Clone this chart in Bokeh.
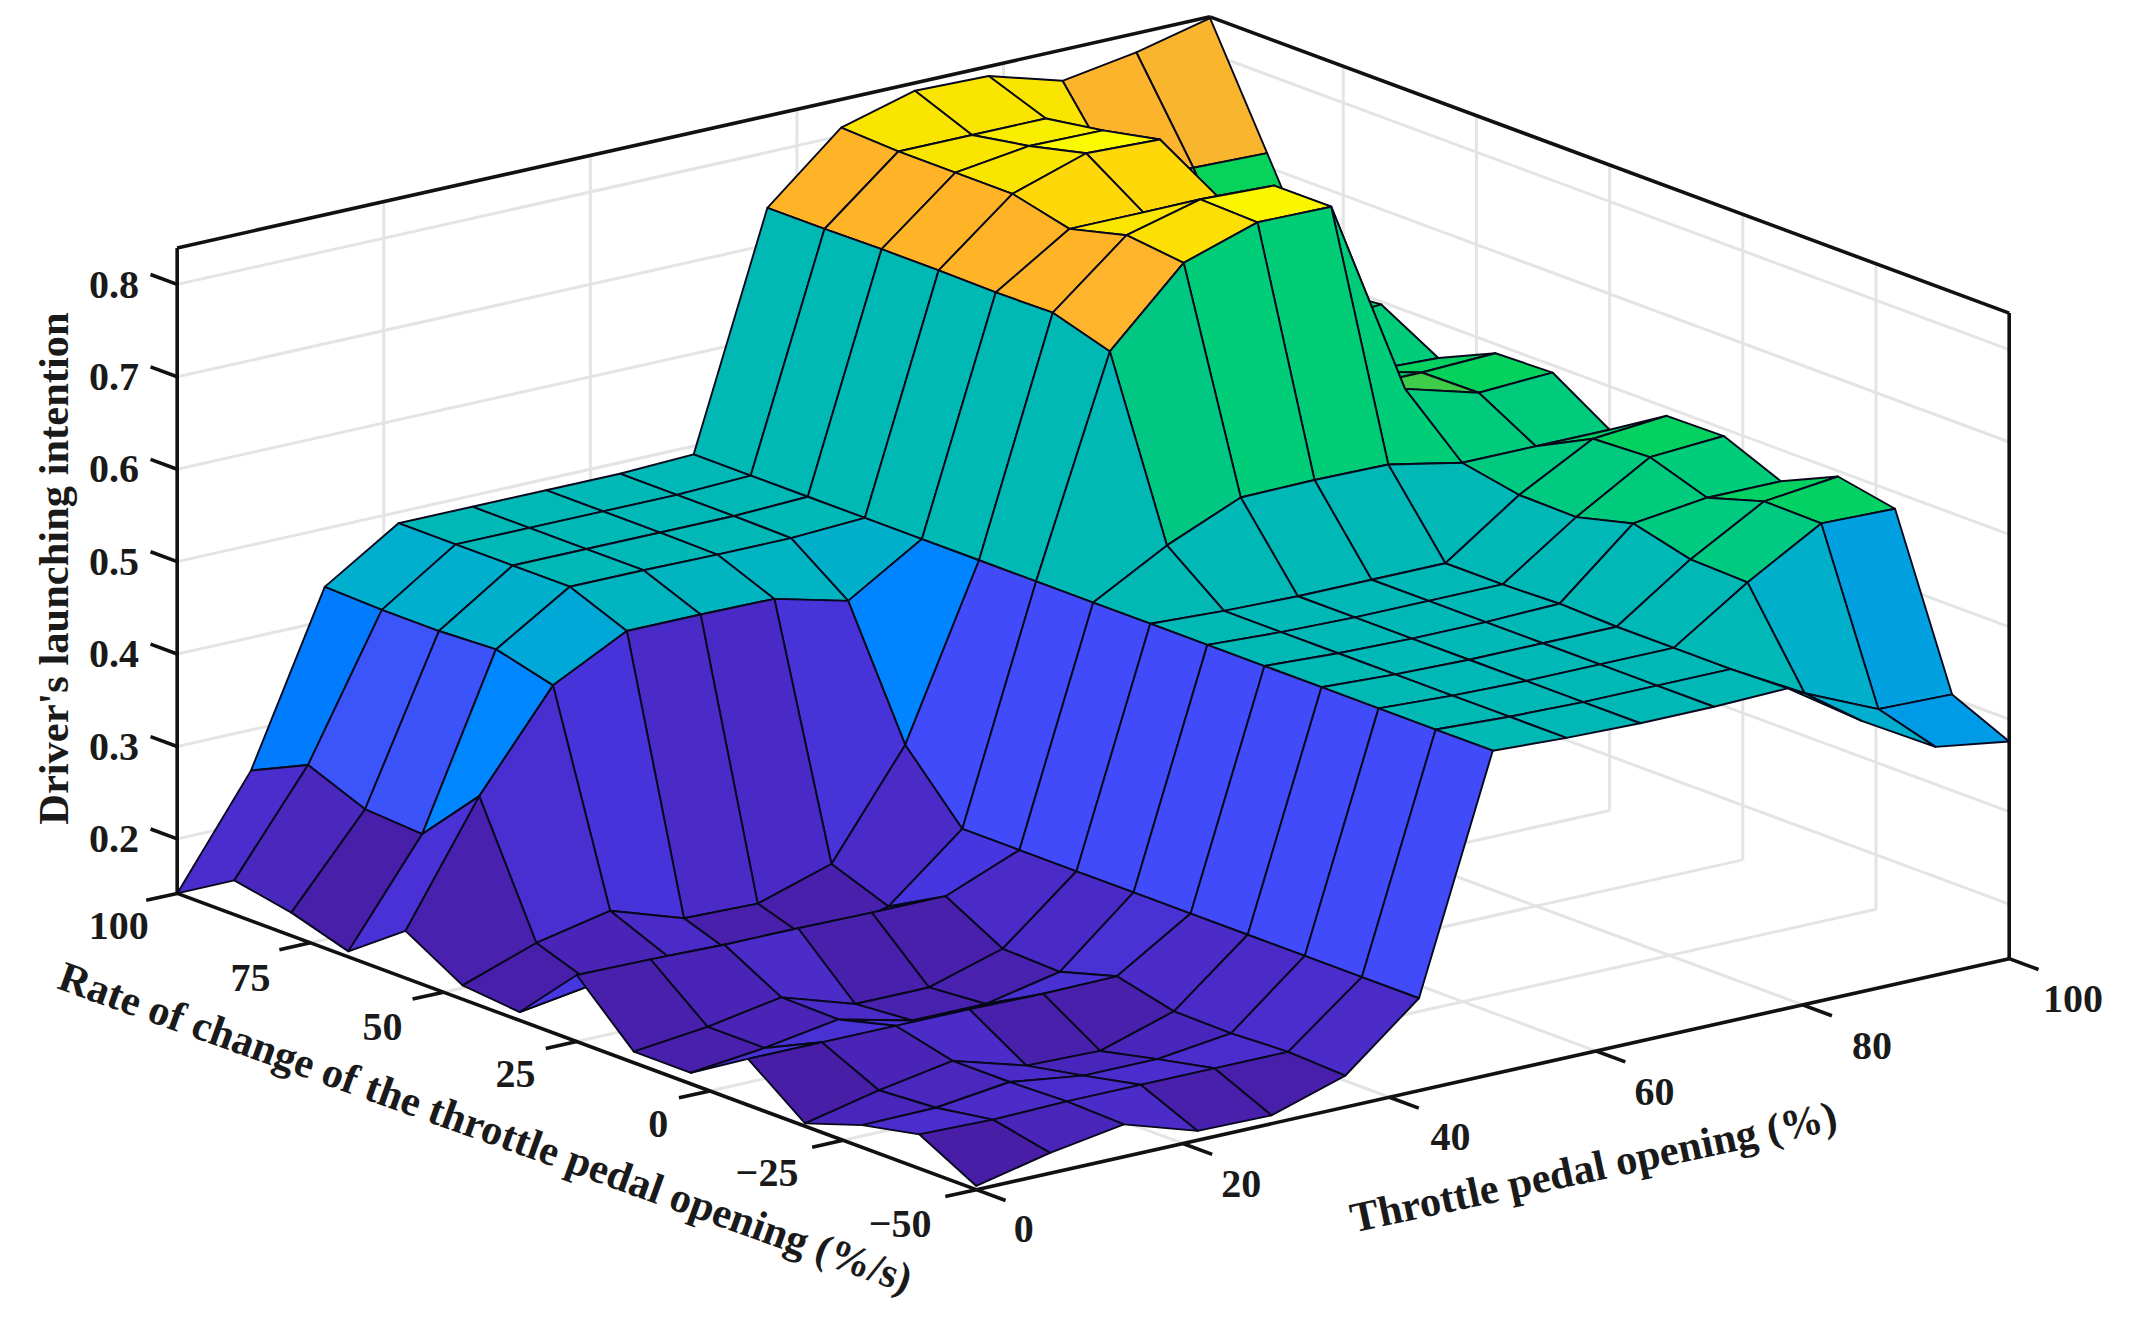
import numpy as np
from bokeh.core.properties import value
from bokeh.embed import file_html
from bokeh.models import ColumnDataSource, LinearColorMapper, Range1d
from bokeh.plotting import figure
from bokeh.resources import INLINE

# ---- data -------------------------------------------------------------
throttle = [round(100 * k / 14, 3) for k in range(15)]
rate = [round(-50 + 150 * k / 14, 3) for k in range(15)]

z_00 = [.145,.178,.165,.144,.191,.153,.153,.213,.150,.156,.192,.147,.166,.178,.141]
z_01 = [.163,.176,.166,.162,.191,.162,.162,.212,.162,.184,.320,.256,.260,.285,.256]
z_02 = [.176,.178,.176,.176,.191,.175,.176,.210,.175,.201,.422,.438,.435,.435,.437]
z_03 = [.151,.178,.165,.153,.191,.156,.151,.210,.153,.175,.463,.488,.488,.488,.488]
z_04 = [.150,.178,.165,.151,.190,.156,.151,.209,.153,.173,.463,.488,.488,.488,.488]
z_05 = [.175,.178,.175,.176,.191,.173,.175,.209,.175,.198,.462,.487,.488,.488,.488]
z_06 = [.241,.241,.241,.241,.241,.241,.241,.241,.241,.309,.442,.487,.488,.488,.488]
z_07 = [.491,.491,.491,.491,.491,.491,.491,.491,.491,.491,.491,.491,.491,.491,.491]
z_08 = [.487,.487,.487,.487,.487,.487,.487,.535,.722,.741,.740,.741,.741,.740,.740]
z_09 = [.485,.485,.485,.485,.485,.485,.485,.569,.800,.807,.791,.806,.806,.806,.809]
z_10 = [.485,.485,.485,.485,.485,.485,.485,.570,.826,.828,.791,.832,.817,.806,.831]
z_11 = [.487,.485,.485,.485,.487,.485,.485,.569,.825,.825,.791,.829,.816,.806,.829]
z_12 = [.434,.441,.538,.540,.556,.540,.541,.553,.610,.587,.590,.590,.626,.720,.806]
z_13 = [.388,.406,.584,.585,.566,.587,.584,.553,.588,.587,.565,.591,.591,.717,.819]
z_14 = [.376,.404,.582,.594,.566,.592,.591,.553,.592,.590,.562,.597,.591,.715,.838]
z_rows = [z_00, z_01, z_02, z_03, z_04, z_05, z_06, z_07, z_08, z_09, z_10, z_11, z_12, z_13, z_14]

z_ticks = [0.2, 0.3, 0.4, 0.5, 0.6, 0.7, 0.8]
z_tick_labels = ["0.2", "0.3", "0.4", "0.5", "0.6", "0.7", "0.8"]
throttle_ticks = [0, 20, 40, 60, 80, 100]
throttle_tick_labels = ["0", "20", "40", "60", "80", "100"]
rate_ticks = [-50, -25, 0, 25, 50, 75, 100]
rate_tick_labels = ["\u221250", "\u221225", "0", "25", "50", "75", "100"]

# ---- camera (fixed orthographic view) ----------------------------------
S = 2131 / 1568
Z0, Z1 = 0.141, 0.8395


def px(x, y, z):
    x, y, z = np.asarray(x, float), np.asarray(y, float), np.asarray(z, float)
    u = 718 + 7.60 * x - 3.92 * (y + 50)
    v = 875 - 1.70 * x - 1.4533 * (y + 50) - 680 * (z - Z0)
    return (S * u).tolist(), (S * v).tolist()


# ---- colour map ---------------------------------------------------------
anchors = [
    (.141, (72, 30, 165)), (.153, (72, 32, 172)), (.178, (75, 45, 205)), (.212, (70, 55, 225)),
    (.241, (65, 75, 250)), (.260, (60, 85, 250)), (.285, (0, 125, 255)), (.320, (0, 135, 255)),
    (.406, (0, 160, 225)), (.435, (0, 175, 205)), (.491, (0, 185, 180)), (.535, (0, 200, 130)),
    (.569, (0, 205, 120)), (.590, (5, 210, 90)), (.626, (110, 200, 60)), (.722, (255, 180, 45)),
    (.741, (255, 180, 40)), (.791, (255, 215, 10)), (.806, (250, 228, 0)), (.832, (250, 250, 0)),
    (.8395, (250, 250, 0)),
]
az = [a[0] for a in anchors]
tt = np.linspace(Z0, Z1, 512)
palette = ["#%02x%02x%02x" % tuple(int(round(np.interp(t, az, [a[1][c] for a in anchors]))) for c in range(3)) for t in tt]
mapper = LinearColorMapper(palette=palette, low=Z0, high=Z1)

# ---- figure -------------------------------------------------------------
p = figure(width=2115, height=1305, x_range=Range1d(0, 2115), y_range=Range1d(1305, 0),
           x_axis_type=None, y_axis_type=None, toolbar_location=None, output_backend="svg",
           min_border=0, outline_line_color=None, background_fill_color="white")
p.grid.visible = False

XMIN, XMAX, YMIN, YMAX = 0, 100, -50, 100

# grids
gx, gy = [], []


def seg(a, b):
    xs, ys = px([a[0], b[0]], [a[1], b[1]], [a[2], b[2]])
    gx.append(xs)
    gy.append(ys)


for t in throttle_ticks[1:-1]:
    seg((t, YMAX, Z0), (t, YMAX, Z1))
    seg((t, YMIN, Z0), (t, YMAX, Z0))
for t in rate_ticks[1:-1]:
    seg((XMAX, t, Z0), (XMAX, t, Z1))
    seg((XMIN, t, Z0), (XMAX, t, Z0))
for t in z_ticks:
    seg((XMIN, YMAX, t), (XMAX, YMAX, t))
    seg((XMAX, YMIN, t), (XMAX, YMAX, t))
p.multi_line(gx, gy, line_color="#e4e4e4", line_width=3)

# box and ticks
bx, by = [], []


def bseg(a, b):
    xs, ys = px([a[0], b[0]], [a[1], b[1]], [a[2], b[2]])
    bx.append(xs)
    by.append(ys)


bseg((XMIN, YMAX, Z0), (XMIN, YMAX, Z1))
bseg((XMAX, YMIN, Z0), (XMAX, YMIN, Z1))
bseg((XMIN, YMAX, Z1), (XMAX, YMAX, Z1))
bseg((XMAX, YMIN, Z1), (XMAX, YMAX, Z1))
bseg((XMIN, YMAX, Z0), (XMIN, YMIN, Z0))
bseg((XMIN, YMIN, Z0), (XMAX, YMIN, Z0))
for t in z_ticks:
    bseg((XMIN, YMAX, t), (XMIN, YMAX + 5.0, t))
for t in rate_ticks:
    bseg((XMIN, t, Z0), (XMIN - 3.0, t, Z0))
for t in throttle_ticks:
    bseg((t, YMIN, Z0), (t, YMIN - 5.5, Z0))
p.multi_line(bx, by, line_color="#111111", line_width=3.6)

# surface: far cells first
xs, ys, cs = [], [], []
for i in range(13, -1, -1):
    for j in range(13, -1, -1):
        qx = [throttle[i], throttle[i + 1], throttle[i + 1], throttle[i]]
        qy = [rate[j], rate[j], rate[j + 1], rate[j + 1]]
        qz = [z_rows[i][j], z_rows[i + 1][j], z_rows[i + 1][j + 1], z_rows[i][j + 1]]
        a, b = px(qx, qy, qz)
        xs.append(a)
        ys.append(b)
        cs.append(z_rows[i][j])
src = ColumnDataSource(dict(xs=xs, ys=ys, c=cs))
p.patches("xs", "ys", source=src, fill_color={"field": "c", "transform": mapper},
          line_color="#08081c", line_width=1.9, line_join="round")

FONT = value("Liberation Serif")


def label(x, y, texts, size, style="bold", angle=0.0, align="center"):
    p.text([S * a for a in x], [S * b for b in y], text=texts, text_font=FONT, text_font_size=value(size),
           text_font_style=style, text_align=align, text_baseline="middle", text_color="#1a1a1a", angle=angle)


label([102] * 7, [617, 549, 481, 413, 345, 277, 209], z_tick_labels, "40px", align="right")
label([662, 564, 484, 379, 281, 184, 87], [900, 863, 827, 790, 755, 719, 681], rate_tick_labels, "40px")
label([753, 913, 1067, 1217, 1377, 1525], [904, 871, 836, 803, 769, 735], throttle_tick_labels, "40px")
label([39], [418], ["Driver's launching intention"], "42.5px", angle=np.pi / 2)
label([357], [829], ["Rate of change of the throttle pedal opening (%/s)"], "42.5px", angle=-0.345)
label([1172], [858], ["Throttle pedal opening (%)"], "42.5px", angle=0.21)

open("out.html", "w").write(file_html(p, INLINE))
